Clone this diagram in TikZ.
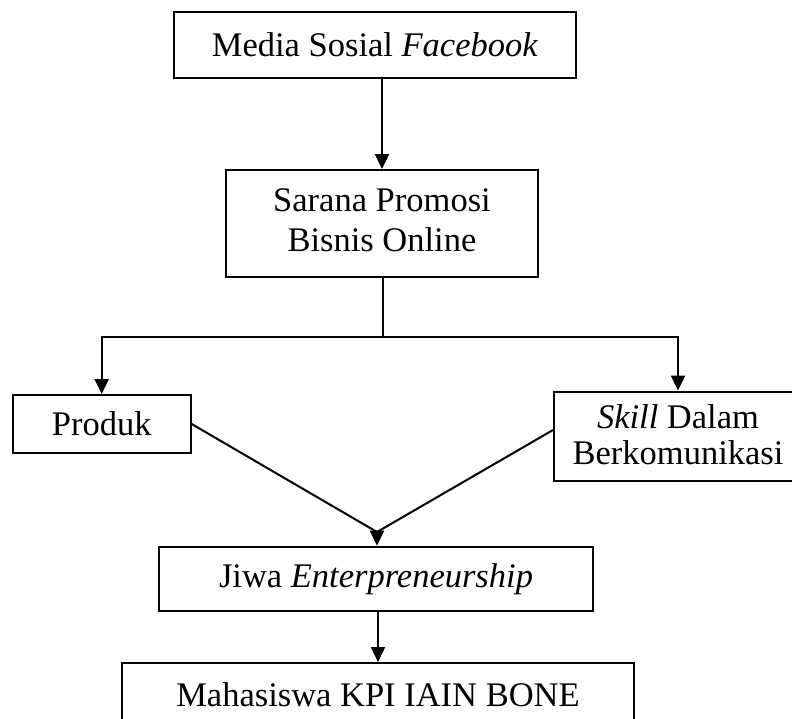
\documentclass[tikz,border=0pt]{standalone}
\usepackage{fontspec}
\setmainfont{Liberation Serif}
\usetikzlibrary{arrows.meta}
\begin{document}
\begin{tikzpicture}[x=1pt,y=-1pt,
  box/.style={draw,line width=2pt,inner sep=0pt,align=center,
    font=\fontsize{34.5}{40}\selectfont},
  conn/.style={line width=2.4pt},
  arr/.style={conn,-{Triangle[length=15pt,width=14pt]}},
  diag/.style={line width=2pt}]
\useasboundingbox (0,0) rectangle (792,718);
\clip (0,0) rectangle (792,718);
\fill[white] (0,0) rectangle (792,718);
\node[box,minimum width=402pt,minimum height=66pt] (fb) at (375,45) {Media Sosial \textit{Facebook}};
\node[box,minimum width=312pt,minimum height=107pt] (sp) at (382,223.5) {Sarana Promosi\\Bisnis Online\rule[-7pt]{0pt}{0pt}};
\node[box,minimum width=178pt,minimum height=58pt] (pr) at (101.7,424) {Produk};
\node[box,minimum width=248pt,minimum height=89pt,font=\fontsize{34.5}{36}\selectfont] (sk) at (678,436) {\textit{Skill} Dalam\\Berkomunikasi\rule[-3pt]{0pt}{0pt}};
\node[box,minimum width=434pt,minimum height=64pt] (jw) at (376,578.7) {Jiwa \textit{Enterpreneurship}};
\node[box,minimum width=512pt,minimum height=64pt] (mh) at (378,695) {Mahasiswa KPI IAIN BONE};
\coordinate (h) at (383,337);
\coordinate (m) at (377,532);
\draw[arr] (fb.south -| sp.north) -- (sp.north);
\draw[conn] (sp.south -| h) -- (h);
\draw[arr] (h) -| (pr.north);
\draw[arr] (h) -| (sk.north);
\draw[diag] (pr.east) -- (m);
\draw[diag] ([yshift=6pt]sk.west) -- (m);
\draw[arr] (m) -- (jw.north -| m);
\draw[arr] (jw.south -| mh.north) -- (mh.north);
\end{tikzpicture}
\end{document}
